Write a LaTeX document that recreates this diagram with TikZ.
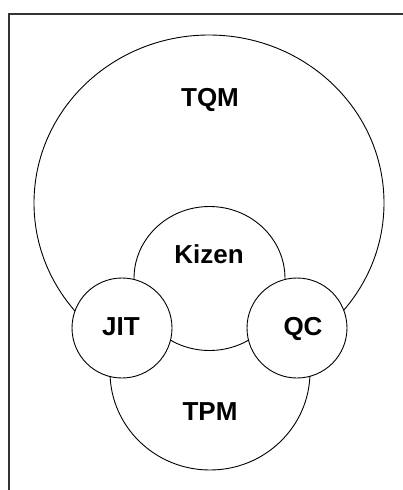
\documentclass[tikz,border=0pt]{standalone}
\usepackage{fontspec}
\setmainfont{Liberation Sans}
\begin{document}
\begin{tikzpicture}[x=1pt,y=-1pt,
  ring/.style={draw=black, fill=white, line width=0.9pt},
  lbl/.style={font=\bfseries\fontsize{26}{30}\selectfont, anchor=base, inner sep=0pt}]
\useasboundingbox (0,0) rectangle (403,490);
\begin{scope}
  \clip (0,0) rectangle (403,490);
  % outer frame (only top and left edges fall inside the page)
  \draw[line width=1.3pt, draw=black!80] (9,520) -- (9,14) -- (430,14);
\end{scope}
% circles, back to front
\filldraw[ring] (209,203) ellipse [x radius=175, y radius=168];
\filldraw[ring] (210,372) ellipse [x radius=100, y radius=98];
\filldraw[ring] (209.5,278.5) ellipse [x radius=75.5, y radius=72];
\filldraw[ring] (122,328) circle [radius=50];
\filldraw[ring] (297,328) circle [radius=50];
% labels
\node[lbl] (tqm) at (210,106) {TQM};
\node[lbl] (kizen) at (209,263) {Kizen};
\node[lbl] (jit) at (121,335.5) {JIT};
\node[lbl] (qc) at (303,335.5) {QC};
\node[lbl] (tpm) at (210,420) {TPM};
\end{tikzpicture}
\end{document}
